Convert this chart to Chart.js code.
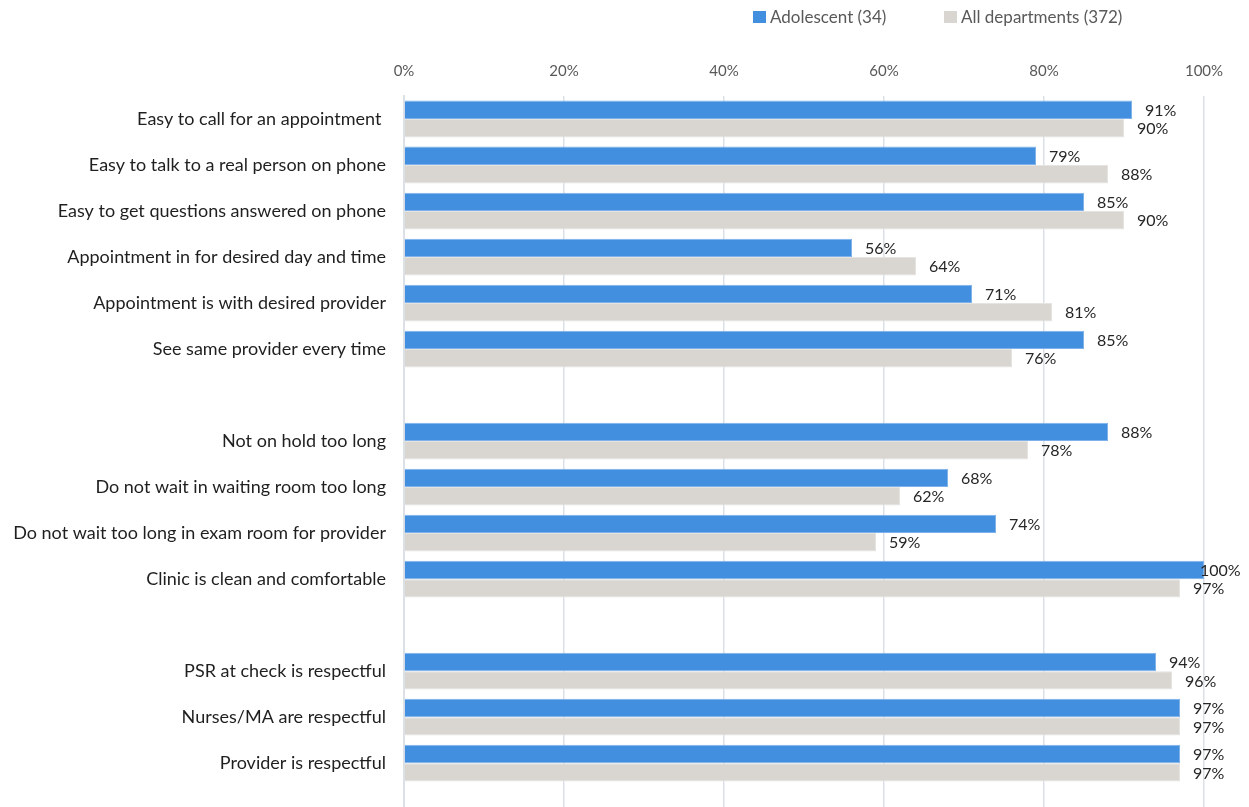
<!DOCTYPE html>
<html>
<head>
<meta charset="utf-8">
<script src="https://cdn.jsdelivr.net/npm/chart.js@4.4.1/dist/chart.umd.min.js"></script>
<style>
  html, body { margin: 0; padding: 0; background: #fff; overflow: hidden; }
  #wrap { position: relative; width: 1249px; height: 861px; }
  .legend { position: absolute; top: 6px; font-family: Lato, "Open Sans", sans-serif; font-size: 17px; color: #595959; display: flex; align-items: center; }
  .legend span.box { display: inline-block; width: 13px; height: 12px; margin-right: 4px; }
</style>
</head>
<body>
<div id="wrap">
  <div class="legend" style="left:753px"><span class="box" style="background:#418fde"></span>Adolescent (34)</div>
  <div class="legend" style="left:944px"><span class="box" style="background:#d9d6d2"></span>All departments (372)</div>
  <canvas id="chart" width="1249" height="861"></canvas>
</div>
<script>
// Chart data (blank entries are the gaps between groups)
const categories = [
  "Easy to call for an appointment ",
  "Easy to talk to a real person on phone",
  "Easy to get questions answered on phone",
  "Appointment in for desired day and time",
  "Appointment is with desired provider",
  "See same provider every time",
  "",
  "Not on hold too long",
  "Do not wait in waiting room too long",
  "Do not wait too long in exam room for provider",
  "Clinic is clean and comfortable",
  "",
  "PSR at check is respectful",
  "Nurses/MA are respectful",
  "Provider is respectful",
  "",
];
const adolescent = [91, 79, 85, 56, 71, 85, null, 88, 68, 74, 100, null, 94, 97, 97, null];
const allDepartments = [90, 88, 90, 64, 81, 76, null, 78, 62, 59, 97, null, 96, 97, 97, null];
const tickValues = [0, 20, 40, 60, 80, 100];

// Draw the percentage labels at the end of each bar
const barLabels = {
  id: "barLabels",
  afterDatasetsDraw(chart) {
    const ctx = chart.ctx;
    const right = chart.chartArea.right;
    ctx.save();
    ctx.font = "16px Lato, 'Open Sans', sans-serif";
    ctx.fillStyle = "#262626";
    ctx.textBaseline = "middle";
    ctx.textAlign = "left";
    chart.data.datasets.forEach((ds, i) => {
      chart.getDatasetMeta(i).data.forEach((bar, j) => {
        const v = ds.data[j];
        if (v === null) return;
        let x = bar.x + 13;
        if (x > right - 4) x = right - 4;
        ctx.fillText(v + "%", x, bar.y + 1);
      });
    });
    ctx.restore();
  },
};

new Chart(document.getElementById("chart"), {
  type: "bar",
  data: {
    labels: categories,
    datasets: [
      {
        label: "Adolescent (34)",
        data: adolescent,
        backgroundColor: "#418fde",
        borderColor: "#7fb2ea",
        borderWidth: 1,
        categoryPercentage: 0.8,
        barPercentage: 1.0,
      },
      {
        label: "All departments (372)",
        data: allDepartments,
        backgroundColor: "#d9d6d2",
        borderColor: "#e6e4e1",
        borderWidth: 1,
        categoryPercentage: 0.8,
        barPercentage: 1.0,
      },
    ],
  },
  options: {
    indexAxis: "y",
    responsive: false,
    animation: false,
    layout: {
      padding: { top: 46, right: 45, bottom: 0, left: 0 },
    },
    plugins: {
      legend: { display: false },
      tooltip: { enabled: false },
    },
    scales: {
      x: {
        position: "top",
        min: 0,
        max: 100,
        afterBuildTicks: (scale) => {
          scale.ticks = tickValues.map((v) => ({ value: v }));
        },
        grid: {
          color: "#dce0e7",
          lineWidth: 1.5,
          drawTicks: false,
        },
        border: { display: false },
        ticks: {
          padding: 16,
          color: "#595959",
          font: { family: "Lato, 'Open Sans', sans-serif", size: 15 },
          callback: (v) => v + "%",
        },
      },
      y: {
        afterFit: (scale) => {
          scale.width = 404;
        },
        grid: { display: false, drawTicks: false },
        border: { display: true, color: "#dce0e7", width: 2 },
        ticks: {
          padding: 18,
          color: "#1f1f1f",
          autoSkip: false,
          font: { family: "Lato, 'Open Sans', sans-serif", size: 18 },
        },
      },
    },
  },
  plugins: [barLabels],
});
</script>
</body>
</html>
